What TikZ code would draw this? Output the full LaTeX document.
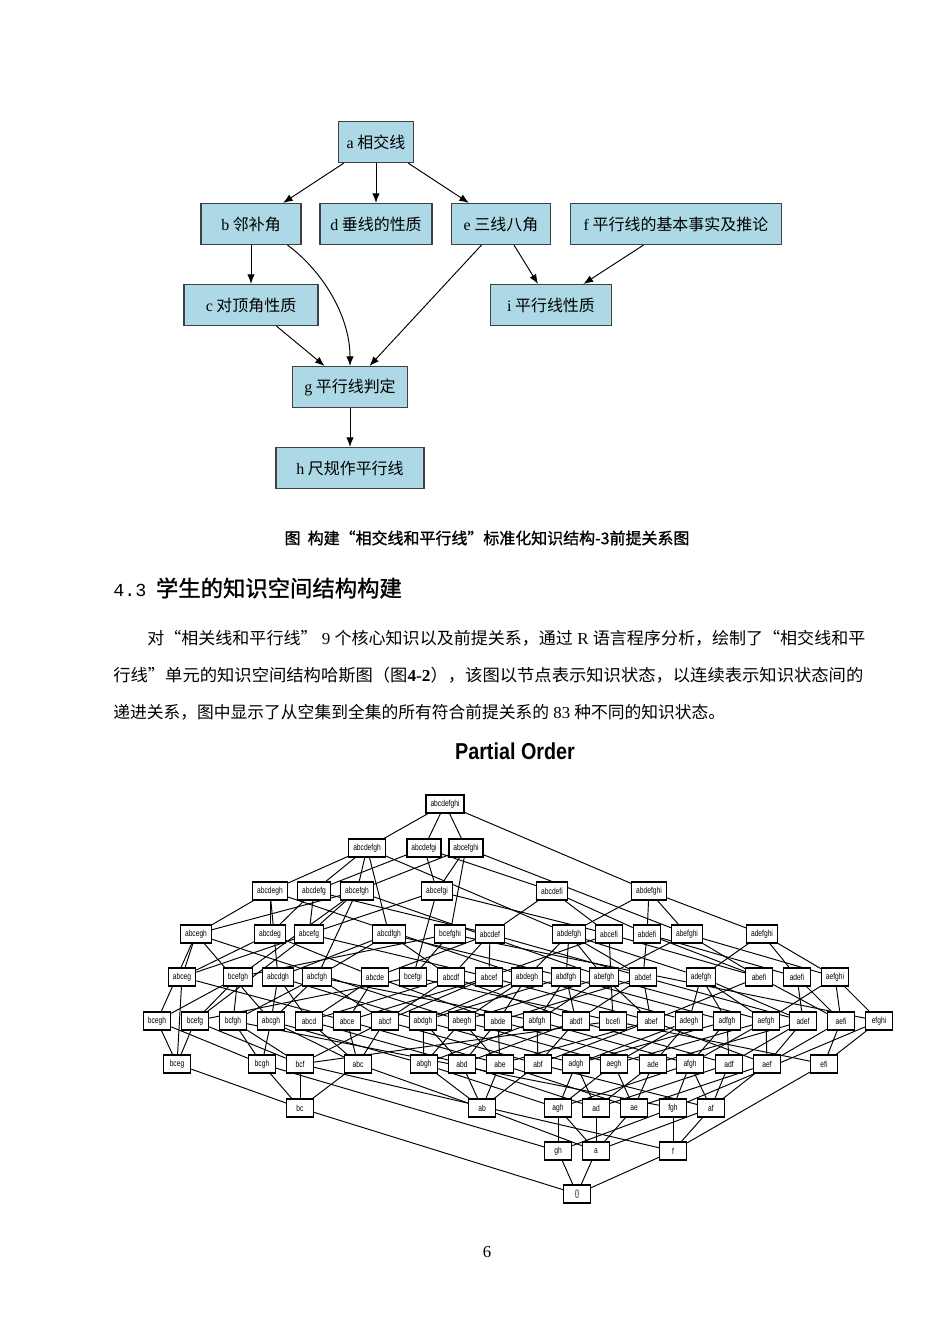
\documentclass[tikz,border=0pt]{standalone}
\usepackage{fontspec}
\setmainfont{Liberation Serif}
\setmonofont{Liberation Mono}
\newfontfamily\cjk{Noto Sans CJK SC}
\newfontfamily\cjkfw[CharacterWidth=Full]{Noto Sans CJK SC}
\newfontfamily\cjkbf[FakeBold=1.2]{Noto Sans CJK SC}
\newfontfamily\hassefont[FakeStretch=0.76]{Liberation Sans}
\newfontfamily\titlefont[FakeStretch=0.86]{Liberation Sans}
\usetikzlibrary{arrows.meta}
\pgfdeclarelayer{background}
\pgfsetlayers{background,main}
\definecolor{conceptblue}{RGB}{173,216,230}
\newcommand\pxu{0.6263pt}
\newcommand\oq{{\cjkfw “}}
\newcommand\cq{{\cjkfw ”}}

\begin{document}
\begin{tikzpicture}
    [
    x=0.6263pt, y=-0.6263pt,
    concept/.style={draw=black!75,fill=conceptblue,line width=0.7pt,inner sep=0pt,minimum height=41*\pxu,font=\fontsize{10}{12}\selectfont\cjk},
    prereq/.style={-{Latex[length=6pt,width=4.6pt]},line width=0.6pt},
    state/.style={draw,fill=white,line width=0.8pt,inner xsep=4.5*\pxu,inner ysep=0pt,minimum height=18*\pxu,minimum width=27*\pxu,font=\fontsize{5.5}{6.5}\selectfont\hassefont},
    cover/.style={line width=0.6pt},
    textline/.style={anchor=west,inner sep=0pt,font=\fontsize{10.5}{12}\selectfont\cjk}
    ]
    \begin{pgfonlayer}{background}
    \path [use as bounding box,fill=white] (0,0) rectangle (950,1344);
    \end{pgfonlayer}

    % prerequisite graph
    \node (a) at (376,142) [concept,minimum width=75*\pxu] {{\rmfamily a} 相交线};
    \node (b) at (251,224) [concept,minimum width=100*\pxu] {{\rmfamily b} 邻补角};
    \node (d) at (376,224) [concept,minimum width=112*\pxu] {{\rmfamily d} 垂线的性质};
    \node (e) at (501,224) [concept,minimum width=99*\pxu] {{\rmfamily e} 三线八角};
    \node (f) at (676,224) [concept,minimum width=211*\pxu] {{\rmfamily f} 平行线的基本事实及推论};
    \node (c) at (251,305) [concept,minimum width=134*\pxu] {{\rmfamily c} 对顶角性质};
    \node (i) at (551,305) [concept,minimum width=121*\pxu] {{\rmfamily i} 平行线性质};
    \node (g) at (350,387) [concept,minimum width=115*\pxu] {{\rmfamily g} 平行线判定};
    \node (h) at (350,468) [concept,minimum width=148*\pxu] {{\rmfamily h} 尺规作平行线};
    \draw [prereq] (a) to (b);
    \draw [prereq] (a) to (d);
    \draw [prereq] (a) to (e);
    \draw [prereq] (b) to (c);
    \draw [prereq] (b.-30) .. controls +(34,25) and +(0,-51) .. (g.north);
    \draw [prereq] (c) to (g);
    \draw [prereq] (e) to (g);
    \draw [prereq] (e) to (i);
    \draw [prereq] (f) to (i);
    \draw [prereq] (g) to (h);

    \node (caption) at (487,538) [inner sep=0pt,font=\fontsize{10}{12}\selectfont\cjkbf] {图\hspace{0.45em}构建“相交线和平行线”标准化知识结构-3前提关系图};
    \node (heading) at (113,588) [anchor=west,inner sep=0pt,font=\fontsize{14}{16}\selectfont\cjkbf] {{\ttfamily\fontsize{11.5}{14}\selectfont 4.3}\hspace{6pt}学生的知识空间结构构建};
    \node (line1) at (147,638) [textline] {\resizebox{449.7pt}{\height}{对\oq 相关线和平行线\cq{\rmfamily\ 9\ }个核心知识以及前提关系，通过{\rmfamily\ R\ }语言程序分析，绘制了\oq 相交线和平}};
    \node (line2) at (113,675) [textline] {\resizebox{469.7pt}{\height}{行线\cq 单元的知识空间结构哈斯图（图{\rmfamily\bfseries 4-2}），该图以节点表示知识状态，以连续表示知识状态间的}};
    \node (line3) at (113,712) [textline] {递进关系，图中显示了从空集到全集的所有符合前提关系的{\rmfamily\ 83\ }种不同的知识状态。};

    % knowledge space
    \node (title) at (515,751) [font=\fontsize{14.4}{16}\selectfont\titlefont\bfseries] {Partial Order};

    \node (k-abcdefghi) at (445,804) [state] {abcdefghi};

    \node (k-abcdefgh) at (367,848) [state] {abcdefgh};
    \node (k-abcdefgi) at (424,848) [state] {abcdefgi};
    \node (k-abcefghi) at (466,848) [state] {abcefghi};

    \node (k-abcdegh) at (270,891) [state] {abcdegh};
    \node (k-abcdefg) at (314,891) [state] {abcdefg};
    \node (k-abcefgh) at (357,891) [state] {abcefgh};
    \node (k-abcefgi) at (437,891) [state] {abcefgi};
    \node (k-abcdefi) at (552,891) [state] {abcdefi};
    \node (k-abdefghi) at (649,891) [state] {abdefghi};

    \node (k-abcegh) at (196,934) [state] {abcegh};
    \node (k-abcdeg) at (270,934) [state] {abcdeg};
    \node (k-abcefg) at (309,934) [state] {abcefg};
    \node (k-abcdfgh) at (389,934) [state] {abcdfgh};
    \node (k-bcefghi) at (450,934) [state] {bcefghi};
    \node (k-abcdef) at (490,934) [state] {abcdef};
    \node (k-abdefgh) at (569,934) [state] {abdefgh};
    \node (k-abcefi) at (609,934) [state] {abcefi};
    \node (k-abdefi) at (647,934) [state] {abdefi};
    \node (k-abefghi) at (687,934) [state] {abefghi};
    \node (k-adefghi) at (762,934) [state] {adefghi};

    \node (k-abceg) at (182,977) [state] {abceg};
    \node (k-bcefgh) at (238,977) [state] {bcefgh};
    \node (k-abcdgh) at (278,977) [state] {abcdgh};
    \node (k-abcfgh) at (317,977) [state] {abcfgh};
    \node (k-abcde) at (375,977) [state] {abcde};
    \node (k-bcefgi) at (413,977) [state] {bcefgi};
    \node (k-abcdf) at (451,977) [state] {abcdf};
    \node (k-abcef) at (489,977) [state] {abcef};
    \node (k-abdegh) at (527,977) [state] {abdegh};
    \node (k-abdfgh) at (566,977) [state] {abdfgh};
    \node (k-abefgh) at (604,977) [state] {abefgh};
    \node (k-abdef) at (643,977) [state] {abdef};
    \node (k-adefgh) at (701,977) [state] {adefgh};
    \node (k-abefi) at (759,977) [state] {abefi};
    \node (k-adefi) at (797,977) [state] {adefi};
    \node (k-aefghi) at (835,977) [state] {aefghi};

    \node (k-bcegh) at (157,1021) [state] {bcegh};
    \node (k-bcefg) at (195,1021) [state] {bcefg};
    \node (k-bcfgh) at (233,1021) [state] {bcfgh};
    \node (k-abcgh) at (271,1021) [state] {abcgh};
    \node (k-abcd) at (309,1021) [state] {abcd};
    \node (k-abce) at (347,1021) [state] {abce};
    \node (k-abcf) at (385,1021) [state] {abcf};
    \node (k-abdgh) at (423,1021) [state] {abdgh};
    \node (k-abegh) at (462,1021) [state] {abegh};
    \node (k-abde) at (498,1021) [state] {abde};
    \node (k-abfgh) at (537,1021) [state] {abfgh};
    \node (k-abdf) at (576,1021) [state] {abdf};
    \node (k-bcefi) at (613,1021) [state] {bcefi};
    \node (k-abef) at (651,1021) [state] {abef};
    \node (k-adegh) at (689,1021) [state] {adegh};
    \node (k-adfgh) at (727,1021) [state] {adfgh};
    \node (k-aefgh) at (766,1021) [state] {aefgh};
    \node (k-adef) at (803,1021) [state] {adef};
    \node (k-aefi) at (841,1021) [state] {aefi};
    \node (k-efghi) at (879,1021) [state] {efghi};

    \node (k-bceg) at (177,1064) [state] {bceg};
    \node (k-bcgh) at (262,1064) [state] {bcgh};
    \node (k-bcf) at (300,1064) [state] {bcf};
    \node (k-abc) at (358,1064) [state] {abc};
    \node (k-abgh) at (424,1064) [state] {abgh};
    \node (k-abd) at (462,1064) [state] {abd};
    \node (k-abe) at (500,1064) [state] {abe};
    \node (k-abf) at (538,1064) [state] {abf};
    \node (k-adgh) at (576,1064) [state] {adgh};
    \node (k-aegh) at (614,1064) [state] {aegh};
    \node (k-ade) at (653,1064) [state] {ade};
    \node (k-afgh) at (690,1064) [state] {afgh};
    \node (k-adf) at (729,1064) [state] {adf};
    \node (k-aef) at (767,1064) [state] {aef};
    \node (k-efi) at (824,1064) [state] {efi};

    \node (k-bc) at (300,1108) [state] {bc};
    \node (k-ab) at (482,1108) [state] {ab};
    \node (k-agh) at (558,1108) [state] {agh};
    \node (k-ad) at (596,1108) [state] {ad};
    \node (k-ae) at (634,1108) [state] {ae};
    \node (k-fgh) at (673,1108) [state] {fgh};
    \node (k-af) at (711,1108) [state] {af};

    \node (k-gh) at (558,1151) [state] {gh};
    \node (k-a) at (596,1151) [state] {a};
    \node (k-f) at (673,1151) [state] {f};

    \node (k-0) at (577,1194) [state] {\{\}};

    \begin{pgfonlayer}{background}
    \draw [cover] (k-abcdefghi) edge (k-abcdefgh) edge (k-abcdefgi) edge (k-abcefghi) edge (k-abdefghi);
    \draw [cover] (k-abcdefgh) edge (k-abcdegh) edge (k-abcdefg) edge (k-abcefgh) edge (k-abcdfgh) edge (k-abdefgh);
    \draw [cover] (k-abcdefgi) edge (k-abcdefg) edge (k-abcefgi) edge (k-abcdefi);
    \draw [cover] (k-abcefghi) edge (k-abcefgh) edge (k-bcefghi) edge (k-abcefgi) edge (k-abefghi);
    \draw [cover] (k-abdefghi) edge (k-abdefgh) edge (k-abefghi) edge (k-adefghi) edge (k-abdefi);

    \draw [cover] (k-abcdegh) edge (k-abcdeg) edge (k-abcegh) edge (k-abcdgh) edge (k-abdegh);
    \draw [cover] (k-abcdefg) edge (k-abcdeg) edge (k-abcefg) edge (k-abcdef);
    \draw [cover] (k-abcefgh) edge (k-abcegh) edge (k-abcefg) edge (k-bcefgh) edge (k-abcfgh) edge (k-abefgh);
    \draw [cover] (k-abcefgi) edge (k-abcefg) edge (k-bcefgi) edge (k-abcefi);
    \draw [cover] (k-abcdefi) edge (k-abcdef) edge (k-abcefi) edge (k-abdefi);

    \draw [cover] (k-abcegh) edge (k-abceg) edge (k-abcgh) edge (k-abegh) edge (k-bcegh);
    \draw [cover] (k-abcdeg) edge (k-abcde) edge (k-abceg);
    \draw [cover] (k-abcefg) edge (k-abceg) edge (k-abcef) edge (k-bcefg);
    \draw [cover] (k-abcdfgh) edge (k-abcdgh) edge (k-abcfgh) edge (k-abdfgh) edge (k-abcdf);
    \draw [cover] (k-bcefghi) edge (k-bcefgh) edge (k-bcefgi) edge (k-efghi);
    \draw [cover] (k-abcdef) edge (k-abcde) edge (k-abcdf) edge (k-abcef) edge (k-abdef);
    \draw [cover] (k-abdefgh) edge (k-abdegh) edge (k-abdfgh) edge (k-abefgh) edge (k-adefgh) edge (k-abdef);
    \draw [cover] (k-abcefi) edge (k-abcef) edge (k-abefi) edge (k-bcefi);
    \draw [cover] (k-abdefi) edge (k-abdef) edge (k-abefi) edge (k-adefi);
    \draw [cover] (k-abefghi) edge (k-abefgh) edge (k-aefghi) edge (k-abefi);
    \draw [cover] (k-adefghi) edge (k-adefgh) edge (k-aefghi) edge (k-adefi);

    \draw [cover] (k-abceg) edge (k-abce) edge (k-bceg);
    \draw [cover] (k-bcefgh) edge (k-bcefg) edge (k-bcegh) edge (k-bcfgh);
    \draw [cover] (k-abcdgh) edge (k-abcgh) edge (k-abdgh) edge (k-abcd);
    \draw [cover] (k-abcfgh) edge (k-abcgh) edge (k-abfgh) edge (k-bcfgh) edge (k-abcf);
    \draw [cover] (k-abcde) edge (k-abcd) edge (k-abce) edge (k-abde);
    \draw [cover] (k-bcefgi) edge (k-bcefg) edge (k-bcefi);
    \draw [cover] (k-abcdf) edge (k-abcd) edge (k-abcf) edge (k-abdf);
    \draw [cover] (k-abcef) edge (k-abce) edge (k-abcf) edge (k-abef);
    \draw [cover] (k-abdegh) edge (k-abdgh) edge (k-abegh) edge (k-adegh) edge (k-abde);
    \draw [cover] (k-abdfgh) edge (k-abdgh) edge (k-abfgh) edge (k-adfgh) edge (k-abdf);
    \draw [cover] (k-abefgh) edge (k-abegh) edge (k-abfgh) edge (k-aefgh) edge (k-abef);
    \draw [cover] (k-abdef) edge (k-abde) edge (k-abdf) edge (k-abef) edge (k-adef);
    \draw [cover] (k-adefgh) edge (k-adegh) edge (k-adfgh) edge (k-aefgh) edge (k-adef);
    \draw [cover] (k-abefi) edge (k-abef) edge (k-aefi);
    \draw [cover] (k-adefi) edge (k-adef) edge (k-aefi);
    \draw [cover] (k-aefghi) edge (k-aefgh) edge (k-efghi) edge (k-aefi);

    \draw [cover] (k-bcegh) edge (k-bceg) edge (k-bcgh);
    \draw [cover] (k-bcefg) edge (k-bceg) edge (k-bcf);
    \draw [cover] (k-bcfgh) edge (k-bcf) edge (k-bcgh) edge (k-fgh);
    \draw [cover] (k-abcgh) edge (k-abc) edge (k-abgh) edge (k-bcgh);
    \draw [cover] (k-abcd) edge (k-abc) edge (k-abd);
    \draw [cover] (k-abce) edge (k-abc) edge (k-abe);
    \draw [cover] (k-abcf) edge (k-abc) edge (k-abf) edge (k-bcf);
    \draw [cover] (k-abdgh) edge (k-abd) edge (k-abgh) edge (k-adgh);
    \draw [cover] (k-abegh) edge (k-abe) edge (k-abgh) edge (k-aegh);
    \draw [cover] (k-abde) edge (k-abd) edge (k-abe) edge (k-ade);
    \draw [cover] (k-abfgh) edge (k-abf) edge (k-abgh) edge (k-afgh);
    \draw [cover] (k-abdf) edge (k-abd) edge (k-abf) edge (k-adf);
    \draw [cover] (k-bcefi) edge (k-bcf) edge (k-efi);
    \draw [cover] (k-abef) edge (k-abe) edge (k-abf) edge (k-aef);
    \draw [cover] (k-adegh) edge (k-ade) edge (k-adgh) edge (k-aegh);
    \draw [cover] (k-adfgh) edge (k-adf) edge (k-adgh) edge (k-afgh);
    \draw [cover] (k-aefgh) edge (k-aef) edge (k-aegh) edge (k-afgh);
    \draw [cover] (k-adef) edge (k-ade) edge (k-adf) edge (k-aef);
    \draw [cover] (k-aefi) edge (k-aef) edge (k-efi);
    \draw [cover] (k-efghi) edge (k-efi) edge (k-fgh);

    \draw [cover] (k-bceg) edge (k-bc);
    \draw [cover] (k-bcgh) edge (k-bc) edge (k-gh);
    \draw [cover] (k-bcf) edge (k-bc) edge (k-f);
    \draw [cover] (k-abc) edge (k-ab) edge (k-bc);
    \draw [cover] (k-abgh) edge (k-ab) edge (k-agh);
    \draw [cover] (k-abd) edge (k-ab) edge (k-ad);
    \draw [cover] (k-abe) edge (k-ab) edge (k-ae);
    \draw [cover] (k-abf) edge (k-ab) edge (k-af);
    \draw [cover] (k-adgh) edge (k-ad) edge (k-agh);
    \draw [cover] (k-aegh) edge (k-ae) edge (k-agh);
    \draw [cover] (k-ade) edge (k-ad) edge (k-ae);
    \draw [cover] (k-afgh) edge (k-af) edge (k-agh) edge (k-fgh);
    \draw [cover] (k-adf) edge (k-ad) edge (k-af);
    \draw [cover] (k-aef) edge (k-ae) edge (k-af);
    \draw [cover] (k-efi) edge (k-f);

    \draw [cover] (k-bc) edge (k-0);
    \draw [cover] (k-ab) edge (k-a);
    \draw [cover] (k-agh) edge (k-a) edge (k-gh);
    \draw [cover] (k-ad) edge (k-a);
    \draw [cover] (k-ae) edge (k-a);
    \draw [cover] (k-fgh) edge (k-f) edge (k-gh);
    \draw [cover] (k-af) edge (k-a) edge (k-f);
    \draw [cover] (k-gh) edge (k-0);
    \draw [cover] (k-a) edge (k-0);
    \draw [cover] (k-f) edge (k-0);
    \end{pgfonlayer}

    \node (pagenum) at (487,1252) [font=\fontsize{10.5}{12}\selectfont] {6};
\end{tikzpicture}
\end{document}
